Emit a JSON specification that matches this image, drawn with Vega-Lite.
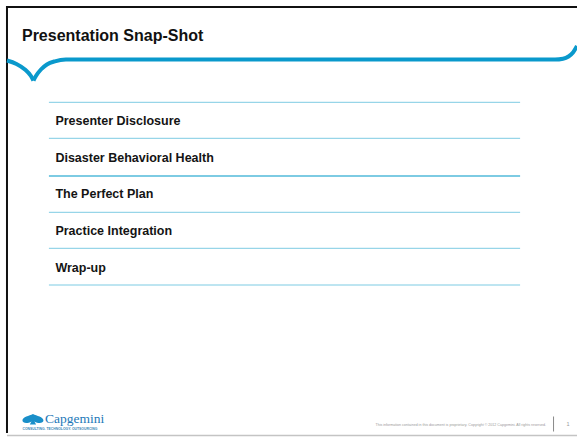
{
  "$schema": "https://vega.github.io/schema/vega-lite/v6.json",
  "width": 578,
  "height": 437,
  "autosize": {"type": "fit", "contains": "padding"},
  "padding": 0,
  "background": "white",
  "config": {"view": {"stroke": null}, "font": "Liberation Sans"},
  "layer": [
    {
      "data": {"values": [
        {"x": 6, "y": 7, "x2": 578, "y2": 7},
        {"x": 7, "y": 6, "x2": 7, "y2": 433}
      ]},
      "mark": {"type": "rule", "color": "#111111", "strokeWidth": 2},
      "encoding": {
        "x": {"field": "x", "type": "quantitative", "axis": null, "scale": {"domain": [0, 578], "nice": false, "zero": false}},
        "x2": {"field": "x2"},
        "y": {"field": "y", "type": "quantitative", "axis": null, "scale": {"domain": [0, 437], "nice": false, "zero": false, "reverse": true}},
        "y2": {"field": "y2"}
      }
    },
    {
      "data": {"values": [
        {"x": 7, "y": 435.5, "x2": 578, "y2": 435.5}
      ]},
      "mark": {"type": "rule", "color": "#c4c4c4", "strokeWidth": 1.5},
      "encoding": {
        "x": {"field": "x", "type": "quantitative", "axis": null, "scale": {"domain": [0, 578], "nice": false, "zero": false}},
        "x2": {"field": "x2"},
        "y": {"field": "y", "type": "quantitative", "axis": null, "scale": {"domain": [0, 437], "nice": false, "zero": false, "reverse": true}},
        "y2": {"field": "y2"}
      }
    },
    {
      "data": {"values": [
        {"seg": "a", "ord": 1, "x": 7, "y": 60.5},
        {"seg": "a", "ord": 2, "x": 16.5, "y": 64},
        {"seg": "a", "ord": 3, "x": 25, "y": 69.5},
        {"seg": "a", "ord": 4, "x": 31, "y": 76},
        {"seg": "a", "ord": 5, "x": 33.5, "y": 80.5},
        {"seg": "b", "ord": 1, "x": 33.5, "y": 80.5},
        {"seg": "b", "ord": 2, "x": 36, "y": 76},
        {"seg": "b", "ord": 3, "x": 41, "y": 69.5},
        {"seg": "b", "ord": 4, "x": 47, "y": 64.5},
        {"seg": "b", "ord": 5, "x": 55, "y": 61.3},
        {"seg": "b", "ord": 6, "x": 66, "y": 59.6},
        {"seg": "b", "ord": 7, "x": 556, "y": 59.6},
        {"seg": "b", "ord": 8, "x": 564, "y": 58.8},
        {"seg": "b", "ord": 9, "x": 569.5, "y": 56.5},
        {"seg": "b", "ord": 10, "x": 574, "y": 52.5},
        {"seg": "b", "ord": 11, "x": 578, "y": 46}
      ]},
      "mark": {"type": "line", "color": "#0a99cc", "strokeWidth": 4, "interpolate": "monotone", "clip": true},
      "encoding": {
        "x": {"field": "x", "type": "quantitative", "axis": null, "scale": {"domain": [0, 578], "nice": false, "zero": false}},
        "y": {"field": "y", "type": "quantitative", "axis": null, "scale": {"domain": [0, 437], "nice": false, "zero": false, "reverse": true}},
        "detail": {"field": "seg"},
        "order": {"field": "ord", "type": "quantitative"}
      }
    },
    {
      "data": {"values": [
        {"row": 1, "x": 49, "x2": 521, "y": 102.3},
        {"row": 2, "x": 49, "x2": 521, "y": 138.3},
        {"row": 3, "x": 49, "x2": 521, "y": 176},
        {"row": 4, "x": 49, "x2": 521, "y": 212.3},
        {"row": 5, "x": 49, "x2": 521, "y": 248.3},
        {"row": 6, "x": 49, "x2": 521, "y": 285}
      ]},
      "mark": {"type": "rule", "color": "#7dcbe3"},
      "encoding": {
        "x": {"field": "x", "type": "quantitative", "axis": null, "scale": {"domain": [0, 578], "nice": false, "zero": false}},
        "x2": {"field": "x2"},
        "y": {"field": "y", "type": "quantitative", "axis": null, "scale": {"domain": [0, 437], "nice": false, "zero": false, "reverse": true}},
        "strokeWidth": {"condition": {"test": "datum.row === 3", "value": 2}, "value": 1}
      }
    },
    {
      "data": {"values": [
        {"label": "Presenter Disclosure", "x": 55.5, "y": 125},
        {"label": "Disaster Behavioral Health", "x": 55.5, "y": 161.7},
        {"label": "The Perfect Plan", "x": 55.5, "y": 198.3},
        {"label": "Practice Integration", "x": 55.5, "y": 235},
        {"label": "Wrap-up", "x": 55.5, "y": 271.7}
      ]},
      "mark": {"type": "text", "align": "left", "baseline": "alphabetic", "fontSize": 12.5, "fontWeight": "bold", "color": "#141414", "font": "Liberation Sans"},
      "encoding": {
        "x": {"field": "x", "type": "quantitative", "axis": null, "scale": {"domain": [0, 578], "nice": false, "zero": false}},
        "y": {"field": "y", "type": "quantitative", "axis": null, "scale": {"domain": [0, 437], "nice": false, "zero": false, "reverse": true}},
        "text": {"field": "label"}
      }
    },
    {
      "data": {"values": [
        {"label": "Presentation Snap-Shot", "x": 22, "y": 40.6}
      ]},
      "mark": {"type": "text", "align": "left", "baseline": "alphabetic", "fontSize": 16, "fontWeight": "bold", "color": "#111111", "font": "Liberation Sans"},
      "encoding": {
        "x": {"field": "x", "type": "quantitative", "axis": null, "scale": {"domain": [0, 578], "nice": false, "zero": false}},
        "y": {"field": "y", "type": "quantitative", "axis": null, "scale": {"domain": [0, 437], "nice": false, "zero": false, "reverse": true}},
        "text": {"field": "label"}
      }
    },
    {
      "data": {"values": [
        {"label": "This information contained in this document is proprietary. Copyright © 2012 Capgemini. All rights reserved.", "x": 547, "y": 425.5}
      ]},
      "mark": {"type": "text", "align": "right", "baseline": "alphabetic", "fontSize": 3.6, "color": "#9a9a9a", "font": "Liberation Sans"},
      "encoding": {
        "x": {"field": "x", "type": "quantitative", "axis": null, "scale": {"domain": [0, 578], "nice": false, "zero": false}},
        "y": {"field": "y", "type": "quantitative", "axis": null, "scale": {"domain": [0, 437], "nice": false, "zero": false, "reverse": true}},
        "text": {"field": "label"}
      }
    },
    {
      "data": {"values": [
        {"x": 554.5, "y": 416.5, "y2": 431.5}
      ]},
      "mark": {"type": "rule", "color": "#8a8a8a", "strokeWidth": 1},
      "encoding": {
        "x": {"field": "x", "type": "quantitative", "axis": null, "scale": {"domain": [0, 578], "nice": false, "zero": false}},
        "y": {"field": "y", "type": "quantitative", "axis": null, "scale": {"domain": [0, 437], "nice": false, "zero": false, "reverse": true}},
        "y2": {"field": "y2"}
      }
    },
    {
      "data": {"values": [
        {"label": "1", "x": 569, "y": 426}
      ]},
      "mark": {"type": "text", "align": "center", "baseline": "alphabetic", "fontSize": 5.5, "color": "#9a9a9a", "font": "Liberation Sans"},
      "encoding": {
        "x": {"field": "x", "type": "quantitative", "axis": null, "scale": {"domain": [0, 578], "nice": false, "zero": false}},
        "y": {"field": "y", "type": "quantitative", "axis": null, "scale": {"domain": [0, 437], "nice": false, "zero": false, "reverse": true}},
        "text": {"field": "label"}
      }
    },
    {
      "data": {"values": [
        {"x": 33, "y": 419.3}
      ]},
      "mark": {"type": "point", "filled": true, "color": "#1a8fc9", "opacity": 1, "size": 441, "strokeWidth": 0,
        "shape": "M0,-0.5 C0.35,-0.3 1,-0.25 1,0.12 C1,0.38 0.5,0.42 0.14,0.2 L0.3,0.5 L-0.3,0.5 L-0.14,0.2 C-0.5,0.42 -1,0.38 -1,0.12 C-1,-0.25 -0.35,-0.3 0,-0.5 Z"},
      "encoding": {
        "x": {"field": "x", "type": "quantitative", "axis": null, "scale": {"domain": [0, 578], "nice": false, "zero": false}},
        "y": {"field": "y", "type": "quantitative", "axis": null, "scale": {"domain": [0, 437], "nice": false, "zero": false, "reverse": true}}
      }
    },
    {
      "data": {"values": [
        {"label": "Capgemini", "x": 45, "y": 422.5}
      ]},
      "mark": {"type": "text", "align": "left", "baseline": "alphabetic", "fontSize": 13.5, "color": "#1c78b8", "font": "Liberation Serif"},
      "encoding": {
        "x": {"field": "x", "type": "quantitative", "axis": null, "scale": {"domain": [0, 578], "nice": false, "zero": false}},
        "y": {"field": "y", "type": "quantitative", "axis": null, "scale": {"domain": [0, 437], "nice": false, "zero": false, "reverse": true}},
        "text": {"field": "label"}
      }
    },
    {
      "data": {"values": [
        {"label": "CONSULTING. TECHNOLOGY. OUTSOURCING", "x": 22.5, "y": 430}
      ]},
      "mark": {"type": "text", "align": "left", "baseline": "alphabetic", "fontSize": 3.4, "fontWeight": "bold", "color": "#3a86b6", "font": "Liberation Sans"},
      "encoding": {
        "x": {"field": "x", "type": "quantitative", "axis": null, "scale": {"domain": [0, 578], "nice": false, "zero": false}},
        "y": {"field": "y", "type": "quantitative", "axis": null, "scale": {"domain": [0, 437], "nice": false, "zero": false, "reverse": true}},
        "text": {"field": "label"}
      }
    }
  ]
}
